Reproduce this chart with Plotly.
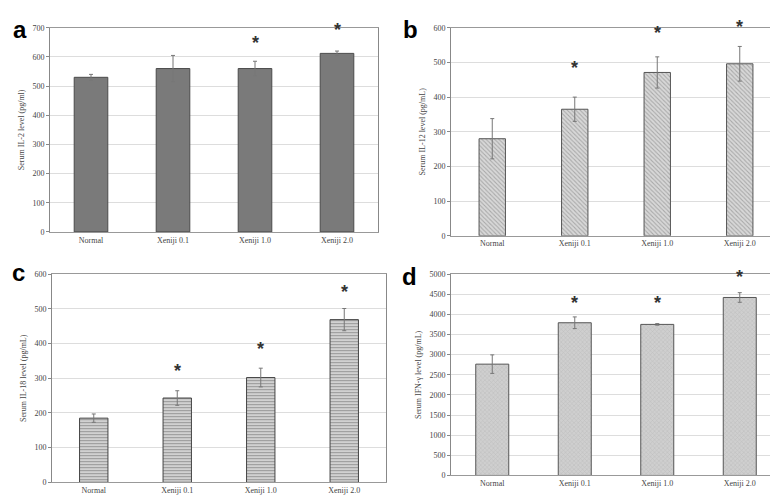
import plotly.graph_objects as go

categories = ["Normal", "Xeniji 0.1", "Xeniji 1.0", "Xeniji 2.0"]

il2_mean = [530, 560, 560, 612]
il2_sd = [10, 45, 25, 8]
il2_star = [None, None, 616, 661]

il12_mean = [280, 365, 471, 496]
il12_sd = [58, 35, 45, 50]
il12_star = [None, 459, 560, 577]

il18_mean = [185, 243, 302, 469]
il18_sd = [12, 21, 27, 32]
il18_star = [None, 294, 358, 524]

ifn_mean = [2765, 3793, 3752, 4421]
ifn_sd = [230, 145, 20, 120]
ifn_star = [None, 4055, 4055, 4705]

panels = [
    dict(mean=il2_mean, sd=il2_sd, star=il2_star, title="Serum IL-2 level (pg/ml)",
         rng=[0, 700], dtick=100, xd=[42/778, 370/778], yd=[1-224/497, 1-16/497],
         width=0.41, letter="a", lx=3, ly=2,
         marker=dict(color="#7a7a7a", line=dict(color="#4a4a4a", width=1))),
    dict(mean=il12_mean, sd=il12_sd, star=il12_star, title="Serum IL-12 level (pg/mL)",
         rng=[0, 600], dtick=100, xd=[443/778, 773/778], yd=[1-228/497, 1-16/497],
         width=0.32, letter="b", lx=393, ly=2,
         marker=dict(color="#d0d0d0", line=dict(color="#555555", width=1),
                     pattern=dict(shape="\\", fgcolor="#7a7a7a", bgcolor="#d8d8d8", size=3, solidity=0.35))),
    dict(mean=il18_mean, sd=il18_sd, star=il18_star, title="Serum IL-18 level (pg/mL)",
         rng=[0, 600], dtick=100, xd=[44/778, 378/778], yd=[1-479/497, 1-267/497],
         width=0.34, letter="c", lx=2, ly=250,
         marker=dict(color="#666666", line=dict(color="#444444", width=1),
                     pattern=dict(shape="-", fgcolor="#4a4a4a", bgcolor="#e4e4e4", size=3, solidity=0.5))),
    dict(mean=ifn_mean, sd=ifn_sd, star=ifn_star, title="Serum IFN-γ level (pg/mL)",
         rng=[0, 5000], dtick=500, xd=[443/778, 773/778], yd=[1-472/497, 1-267/497],
         width=0.40, letter="d", lx=392, ly=254,
         marker=dict(color="#c4c4c4", line=dict(color="#555555", width=1),
                     pattern=dict(shape="x", fgcolor="#a8a8a8", bgcolor="#cfcfcf", size=3, solidity=0.3))),
]

fig = go.Figure()
tick_font = dict(family="Liberation Serif, serif", size=8, color="#444444")

for i, p in enumerate(panels):
    n = "" if i == 0 else str(i + 1)
    fig.add_trace(go.Bar(
        x=categories, y=p["mean"], width=p["width"], marker=p["marker"],
        error_y=dict(type="data", array=p["sd"], visible=True, color="#777777", thickness=1, width=2),
        xaxis="x" + n, yaxis="y" + n, showlegend=False,
    ))
    fig.update_layout(**{
        "xaxis" + n: dict(domain=p["xd"], anchor="y" + n, showline=True, linecolor="#999999",
                          mirror=True, showgrid=False, tickfont=tick_font, ticks="", fixedrange=True),
        "yaxis" + n: dict(domain=p["yd"], anchor="x" + n, range=p["rng"], dtick=p["dtick"],
                          showline=True, linecolor="#888888", mirror=True, gridcolor="#dddddd",
                          gridwidth=1, ticks="outside", ticklen=3, tickcolor="#888888",
                          tickfont=tick_font, zeroline=False,
                          title=dict(text=p["title"], font=dict(family="Liberation Serif, serif", size=8, color="#444444"), standoff=6)),
    })
    for c, s in zip(categories, p["star"]):
        if s is not None:
            fig.add_annotation(x=c, y=s, xref="x" + n, yref="y" + n, text="<b>*</b>", showarrow=False,
                               font=dict(family="Liberation Sans, Arial", size=18, color="#333333"),
                               yanchor="middle", yshift=9)
    fig.add_annotation(x=p["lx"] / 778, y=1 - p["ly"] / 497, xref="paper", yref="paper",
                       text="<b>" + p["letter"] + "</b>", showarrow=False, xanchor="left", yanchor="top",
                       font=dict(family="Liberation Sans, Arial", size=24, color="#000000"))

fig.update_layout(width=778, height=497, margin=dict(l=0, r=0, t=0, b=0),
                  paper_bgcolor="white", plot_bgcolor="white", bargap=0.5)

fig.write_html("out.html")
